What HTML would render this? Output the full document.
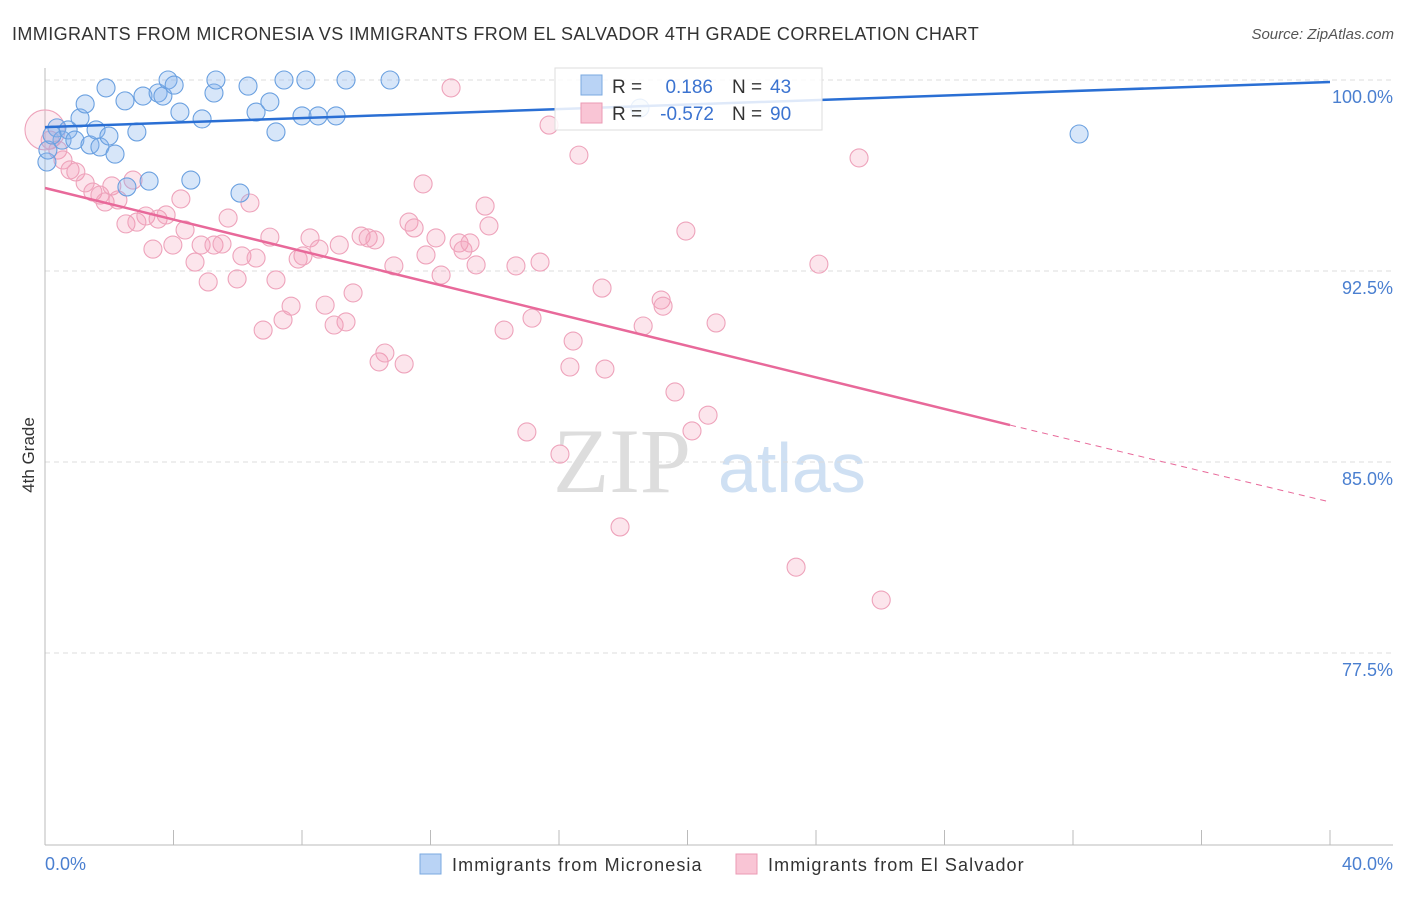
<!DOCTYPE html>
<html><head><meta charset="utf-8"><style>
body{margin:0;background:#fff;font-family:"Liberation Sans",sans-serif;}
</style></head><body>
<svg width="1406" height="892" xmlns="http://www.w3.org/2000/svg" style="font-family:'Liberation Sans',sans-serif">
<text x="12" y="40" font-size="18" fill="#333" letter-spacing="0.4">IMMIGRANTS FROM MICRONESIA VS IMMIGRANTS FROM EL SALVADOR 4TH GRADE CORRELATION CHART</text>
<text x="1394" y="39" font-size="15" fill="#555" font-style="italic" text-anchor="end">Source: ZipAtlas.com</text>
<g>
<text x="553" y="492" font-size="92" font-family="'Liberation Serif',serif" fill="#ddd">ZIP</text>
<text x="718" y="492" font-size="70" fill="#cfe0f3">atlas</text>
</g>
<g id="grid"></g>
<line x1="45" y1="68" x2="45" y2="845" stroke="#bbb"/>
<line x1="45" y1="845" x2="1393" y2="845" stroke="#bbb"/>
<g id="xticks"></g>
<g id="ylabels"></g>
<text x="45" y="870" font-size="18" fill="#4a7fd0">0.0%</text>
<text x="1393" y="870" font-size="18" fill="#4a7fd0" text-anchor="end">40.0%</text>
<text transform="translate(34,455) rotate(-90)" font-size="17" fill="#333" text-anchor="middle">4th Grade</text>
<g id="pink"></g>
<g id="blue"></g>
<g id="lines"></g>
<g>
<rect x="555" y="68" width="267" height="62" fill="#fff" fill-opacity="0.85" stroke="#ddd"/>
<rect x="581" y="75" width="21" height="20" fill="#b9d3f5" stroke="#7aa8e0"/>
<rect x="581" y="103" width="21" height="20" fill="#f9c5d5" stroke="#eb9ab4"/>
<text x="612" y="93" font-size="19" fill="#333">R = </text><text x="713" y="93" font-size="19" fill="#3b73d0" text-anchor="end">0.186</text>
<text x="732" y="93" font-size="19" fill="#333">N = </text><text x="770" y="93" font-size="19" fill="#3b73d0">43</text>
<text x="612" y="120" font-size="19" fill="#333">R = </text><text x="714" y="120" font-size="19" fill="#3b73d0" text-anchor="end">-0.572</text>
<text x="732" y="120" font-size="19" fill="#333">N = </text><text x="770" y="120" font-size="19" fill="#3b73d0">90</text>
</g>
<g>
<rect x="420" y="854" width="21" height="20" fill="#b9d3f5" stroke="#7aa8e0"/>
<text x="452" y="871" font-size="18" fill="#333" letter-spacing="1.1">Immigrants from Micronesia</text>
<rect x="736" y="854" width="21" height="20" fill="#f9c5d5" stroke="#eb9ab4"/>
<text x="768" y="871" font-size="18" fill="#333" letter-spacing="1.1">Immigrants from El Salvador</text>
</g>
</svg>
<script>
const yTicks=[100,92.5,85,77.5];
const yTickLabels=["100.0%","92.5%","85.0%","77.5%"];
const xTicks=[0,4,8,12,16,20,24,28,32,36,40];
const blueX=[0.06,0.37,0.53,0.72,0.93,1.09,1.25,1.40,1.59,1.71,1.90,1.99,2.18,2.49,2.55,2.86,3.05,3.24,3.52,3.67,3.83,4.02,4.20,4.54,4.89,5.26,5.32,6.07,6.32,6.57,7.00,7.19,7.44,8.00,8.12,8.50,9.06,9.37,10.74,32.19,0.09,0.22,18.52];
const blueY=[96.78,98.12,97.64,98.04,97.64,98.51,99.06,97.45,98.04,97.37,99.69,97.80,97.09,99.18,95.80,97.96,99.37,96.03,99.49,99.37,100.0,99.80,98.74,96.07,98.47,99.49,100.0,95.56,99.76,98.74,99.14,97.96,100.0,98.59,100.0,98.59,98.59,100.0,100.0,97.88,97.25,97.84,98.90];
const pinkX=[0,0.16,0.40,0.56,0.78,0.96,1.25,1.49,1.71,1.87,2.08,2.27,2.52,2.74,2.86,3.14,3.36,3.52,3.77,3.98,4.23,4.36,4.67,4.86,5.08,5.26,5.51,5.70,5.98,6.13,6.38,6.57,6.79,7.00,7.19,7.41,7.66,7.88,8.03,8.25,8.53,8.72,9.00,9.16,9.37,9.59,9.84,10.06,10.27,10.40,10.58,10.86,11.18,11.33,11.49,11.77,11.86,12.17,12.33,12.89,13.01,13.23,13.42,13.70,13.82,14.29,14.66,15.00,15.16,15.41,15.69,16.03,16.34,16.44,16.62,17.34,17.43,17.90,18.62,19.18,19.24,19.61,19.95,20.14,20.64,20.89,23.38,24.09,25.34,26.03,12.64];
const pinkY=[98.04,97.64,97.25,96.86,96.47,96.39,95.96,95.60,95.48,95.21,95.84,95.29,94.35,96.07,94.42,94.66,93.36,94.54,94.70,93.52,95.33,94.11,92.85,93.52,92.07,93.52,93.56,94.58,92.19,93.09,95.17,93.01,90.18,93.83,92.15,90.58,91.12,92.97,93.09,93.80,93.36,91.16,90.38,93.52,90.50,91.64,93.87,93.80,93.72,88.93,89.28,92.70,88.85,94.42,94.19,95.92,93.13,93.80,92.34,93.60,93.32,93.60,92.74,95.05,94.27,90.18,92.70,86.18,90.65,92.85,98.23,85.31,88.73,89.75,97.05,91.83,88.65,82.45,90.34,91.36,91.12,87.75,94.07,86.22,86.84,90.46,80.87,92.77,96.94,79.58,99.69];
const blueTrend=[[0,98.15],[40,99.92]];
const pinkTrend=[[0,95.76],[30.04,86.45]];
const pinkDash=[[30.04,86.45],[40,83.43]];
const NS="http://www.w3.org/2000/svg";
const X=v=>45+v/40*1285, Y=v=>80+(100-v)/7.5*191;
function mk(tag,attrs,parent){const e=document.createElementNS(NS,tag);for(const k in attrs)e.setAttribute(k,attrs[k]);document.getElementById(parent).appendChild(e);return e;}
yTicks.forEach((t,i)=>{
 const l=mk('line',{x1:45,x2:1393,y1:Y(t),y2:Y(t),stroke:'#ddd','stroke-dasharray':'5,4'},'grid');
 
 
 const tx=mk('text',{x:1393,y:Y(t)+23,'font-size':18,fill:'#4a7fd0','text-anchor':'end'},'ylabels');
 tx.textContent=yTickLabels[i];
 
 
});
xTicks.forEach(t=>{
 const l=mk('line',{x1:X(t),x2:X(t),y1:830,y2:845,stroke:'#bbb'},'xticks');
 
 
});
pinkX.forEach((x,i)=>{
 const c=mk('circle',{cx:X(x),cy:Y(pinkY[i]),r:i===0?20:9,fill:i===0?'rgba(242,150,175,0.18)':'rgba(244,150,178,0.25)',stroke:'#eea3bb','stroke-width':1.1},'pink');
 
 
});
blueX.forEach((x,i)=>{
 const c=mk('circle',{cx:X(x),cy:Y(blueY[i]),r:9,fill:'rgba(130,178,235,0.32)',stroke:'#6aa0e0','stroke-width':1.1},'blue');
 
 
});
function ln(p,color,w,dash,name){
 const l=mk('line',{x1:X(p[0][0]),y1:Y(p[0][1]),x2:X(p[1][0]),y2:Y(p[1][1]),stroke:color,'stroke-width':w},'lines');
 if(dash)l.setAttribute('stroke-dasharray',dash);
 
 
}
ln(blueTrend,'#2a6fd4',2.5,null,'micronesia-trend-line');
ln(pinkTrend,'#e8699a',2.5,null,'el-salvador-trend-line');
ln(pinkDash,'#e8699a',1,'6,5','el-salvador-trend-extension');
</script>
</body></html>
